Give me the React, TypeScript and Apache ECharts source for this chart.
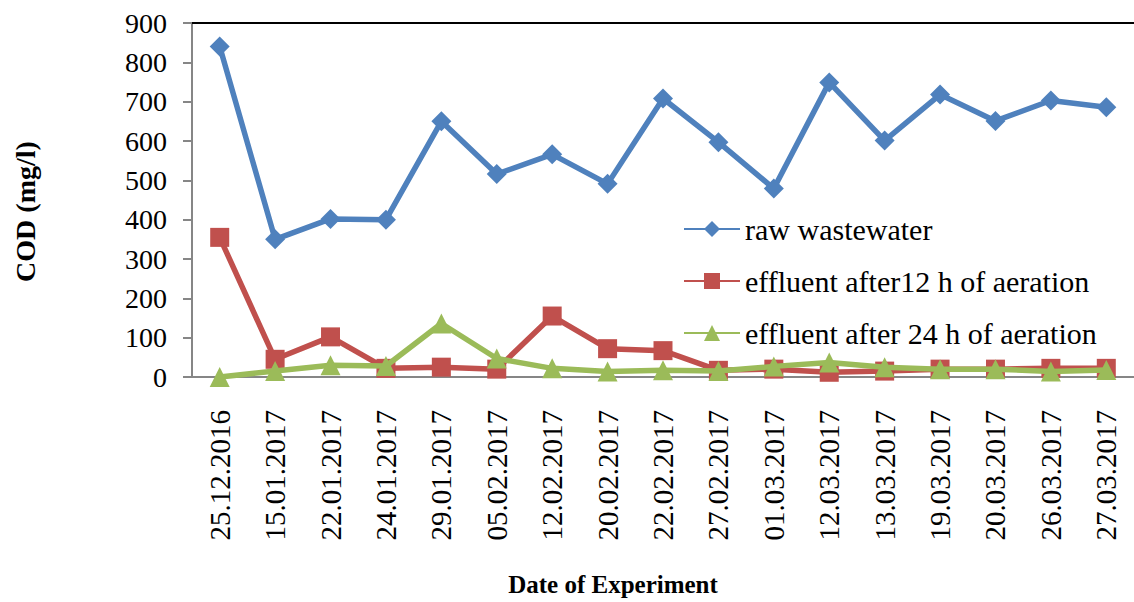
import React, { useEffect, useRef } from "react";
import * as echarts from "echarts";

const categories = [
  "25.12.2016", "15.01.2017", "22.01.2017", "24.01.2017", "29.01.2017", "05.02.2017",
  "12.02.2017", "20.02.2017", "22.02.2017", "27.02.2017", "01.03.2017", "12.03.2017",
  "13.03.2017", "19.03.2017", "20.03.2017", "26.03.2017", "27.03.2017",
];
const rawWastewater = [840, 350, 402, 400, 650, 516, 566, 491, 708, 597, 479, 749, 601, 718, 651, 703, 686];
const effluent12h = [355, 45, 102, 22, 25, 20, 155, 72, 67, 17, 20, 12, 15, 20, 20, 22, 22];
const effluent24h = [0, 15, 30, 28, 136, 47, 22, 14, 17, 15, 27, 37, 25, 20, 20, 14, 18];
const seriesNames = ["raw wastewater", "effluent after12 h of aeration", "effluent after 24 h of aeration"];

export default function App() {
  const ref = useRef<HTMLDivElement>(null);
  useEffect(() => {
    if (!ref.current) return;
    const chart = echarts.init(ref.current, null, { renderer: "svg" });
    const font = "Liberation Serif, Times New Roman, serif";
    chart.setOption({
      animation: false,
      backgroundColor: "#ffffff",
      textStyle: { fontFamily: font },
      grid: { left: 192, right: -10, top: 23, bottom: 218, containLabel: false },
      legend: {
        orient: "vertical",
        left: 678,
        top: 209,
        itemGap: 22,
        itemWidth: 56,
        itemHeight: 20,
        textStyle: { fontFamily: font, fontSize: 30, color: "#000" },
        data: seriesNames,
      },
      xAxis: [
        {
          type: "category",
          data: categories,
          boundaryGap: true,
          axisLine: { lineStyle: { color: "#868686", width: 2 } },
          axisTick: { show: false },
          axisLabel: { rotate: 90, fontSize: 29, color: "#000", margin: 33, fontFamily: font },
          name: "Date of Experiment",
          nameLocation: "middle",
          nameGap: 195,
          nameTextStyle: {
            fontSize: 25,
            fontWeight: "bold",
            color: "#000",
            fontFamily: font,
            padding: [0, 100, 0, 0],
          },
        },
        {
          type: "category",
          data: categories,
          position: "top",
          axisLine: { lineStyle: { color: "#000", width: 2 } },
          axisTick: { show: false },
          axisLabel: { show: false },
        },
      ],
      yAxis: {
        type: "value",
        min: 0,
        max: 900,
        interval: 100,
        axisLine: { show: true, lineStyle: { color: "#868686", width: 2 } },
        axisTick: { show: true, length: 9, lineStyle: { color: "#868686", width: 2 } },
        splitLine: { show: false },
        axisLabel: { fontSize: 28, color: "#000", margin: 25, fontFamily: font },
        name: "COD (mg/l)",
        nameLocation: "middle",
        nameRotate: 90,
        nameGap: 153,
        nameTextStyle: {
          fontSize: 28,
          fontWeight: "bold",
          color: "#000",
          fontFamily: font,
          padding: [0, 23, 0, 0],
        },
      },
      series: [
        {
          name: seriesNames[0],
          type: "line",
          data: rawWastewater,
          symbol: "diamond",
          symbolSize: 20,
          lineStyle: { color: "#4F81BD", width: 5.5 },
          itemStyle: { color: "#4F81BD" },
          z: 3,
        },
        {
          name: seriesNames[1],
          type: "line",
          data: effluent12h,
          symbol: "rect",
          symbolSize: 19,
          lineStyle: { color: "#C0504D", width: 5.5 },
          itemStyle: { color: "#C0504D" },
          z: 4,
        },
        {
          name: seriesNames[2],
          type: "line",
          data: effluent24h,
          symbol: "triangle",
          symbolSize: 20,
          lineStyle: { color: "#9BBB59", width: 5.5 },
          itemStyle: { color: "#9BBB59" },
          z: 5,
        },
      ],
    });
    return () => chart.dispose();
  }, []);
  return (
    <div
      ref={ref}
      style={{ position: "absolute", left: 0, top: 0, width: 1134, height: 602, background: "#fff" }}
    />
  );
}
